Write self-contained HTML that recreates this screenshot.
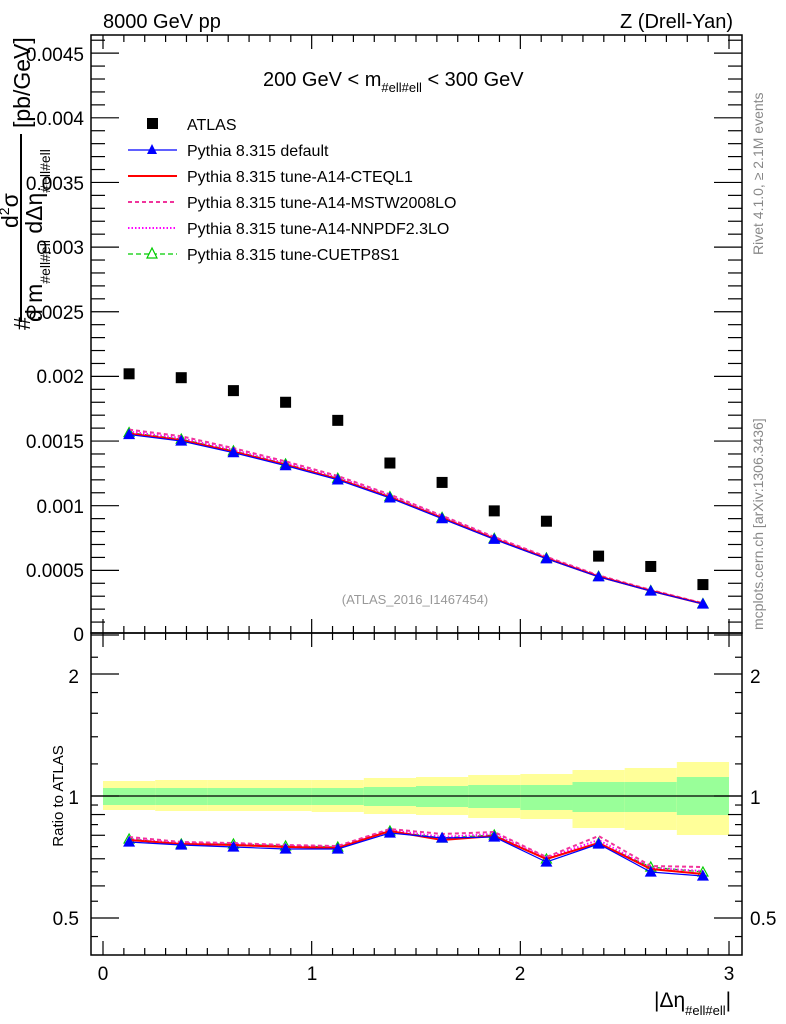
<!DOCTYPE html>
<html><head><meta charset="utf-8"><style>body{margin:0;background:#fff}svg{display:block}text{font-family:"Liberation Sans",sans-serif}</style></head>
<body>
<svg id="s" width="786" height="1024" xmlns="http://www.w3.org/2000/svg">
<rect width="786" height="1024" fill="#fff"/>
<g id="bands"></g>
<line x1="91" y1="796" x2="742" y2="796" stroke="#000" stroke-width="1.2"/>
<g id="series"></g>
<rect x="91" y="35" width="651" height="598" fill="none" stroke="#000" stroke-width="1.5"/>
<rect x="91" y="633" width="651" height="322" fill="none" stroke="#000" stroke-width="1.5"/>
<g id="ticks" stroke="#000" stroke-width="1.2"></g>
<text x="103" y="28" font-size="20">8000 GeV pp</text>
<text x="733" y="28" font-size="20" text-anchor="end">Z (Drell-Yan)</text>
<text x="263" y="86" font-size="20">200 GeV &lt; m<tspan font-size="13" dy="6">#ell#ell</tspan><tspan dy="-6"> &lt; 300 GeV</tspan></text>
<g font-size="16">
<text x="187" y="130">ATLAS</text>
<text x="187" y="156">Pythia 8.315 default</text>
<text x="187" y="182">Pythia 8.315 tune-A14-CTEQL1</text>
<text x="187" y="208">Pythia 8.315 tune-A14-MSTW2008LO</text>
<text x="187" y="234">Pythia 8.315 tune-A14-NNPDF2.3LO</text>
<text x="187" y="260">Pythia 8.315 tune-CUETP8S1</text>
</g>
<rect x="147" y="118" width="11" height="11" fill="#000"/>
<line x1="128" y1="150" x2="177" y2="150" stroke="#00f" stroke-width="1.2"/><polygon points="152,144 147,154 157,154" fill="#00f"/>
<line x1="128" y1="176" x2="177" y2="176" stroke="#f00" stroke-width="2"/>
<line x1="128" y1="202" x2="177" y2="202" stroke="#f0349b" stroke-width="2" stroke-dasharray="4,3"/>
<line x1="128" y1="228" x2="177" y2="228" stroke="#f0f" stroke-width="2" stroke-dasharray="1.5,2"/>
<line x1="128" y1="254" x2="177" y2="254" stroke="#0c0" stroke-width="1.2" stroke-dasharray="5,3"/><polygon points="152,248 147,258 157,258" fill="#fff" stroke="#0c0" stroke-width="1.2"/>
<g font-size="19">
<text x="84" y="61" text-anchor="end">0.0045</text>
<text x="84" y="125" text-anchor="end">0.004</text>
<text x="84" y="190" text-anchor="end">0.0035</text>
<text x="84" y="254" text-anchor="end">0.003</text>
<text x="84" y="319" text-anchor="end">0.0025</text>
<text x="84" y="383" text-anchor="end">0.002</text>
<text x="84" y="448" text-anchor="end">0.0015</text>
<text x="84" y="513" text-anchor="end">0.001</text>
<text x="84" y="577" text-anchor="end">0.0005</text>
<text x="84" y="641" text-anchor="end">0</text>
<text x="79" y="683" text-anchor="end">2</text>
<text x="79" y="804" text-anchor="end">1</text>
<text x="79" y="925" text-anchor="end">0.5</text>
<text x="750" y="683">2</text>
<text x="750" y="804">1</text>
<text x="750" y="925">0.5</text>
<text x="103" y="980" text-anchor="middle">0</text>
<text x="312" y="980" text-anchor="middle">1</text>
<text x="520" y="980" text-anchor="middle">2</text>
<text x="729" y="980" text-anchor="middle">3</text>
</g>
<text x="654" y="1007" font-size="21">|Δη<tspan font-size="13" dy="8">#ell#ell</tspan><tspan dy="-8">|</tspan></text>
<text x="415" y="604" font-size="13" fill="#999" text-anchor="middle">(ATLAS_2016_I1467454)</text>
<text transform="translate(63,796) rotate(-90)" font-size="15" text-anchor="middle">Ratio to ATLAS</text>
<text transform="translate(763,255) rotate(-90)" font-size="14" fill="#888">Rivet 4.1.0, ≥ 2.1M events</text>
<text transform="translate(763,630) rotate(-90)" font-size="14" fill="#888">mcplots.cern.ch [arXiv:1306.3436]</text>
<g font-size="23">
<text transform="translate(30,330) rotate(-90)">#</text>
<text transform="translate(18,228) rotate(-90)">d<tspan font-size="14" dy="-9">2</tspan><tspan dy="9">σ</tspan></text>
<line x1="21" y1="134" x2="21" y2="322" stroke="#000" stroke-width="2"/>
<text transform="translate(42,322) rotate(-90)">d m<tspan font-size="14" dy="8">#ell#ell</tspan><tspan dy="-8"> dΔη</tspan><tspan font-size="14" dy="8">#ell#ell</tspan></text>
<text transform="translate(30,128) rotate(-90)">[pb/GeV]</text>
</g>
<script>
var NS="http://www.w3.org/2000/svg";
function el(p,t,a){var e=document.createElementNS(NS,t);for(var k in a)e.setAttribute(k,a[k]);document.getElementById(p).appendChild(e);return e;}
function X(v){return 103+v*208.67;}
function YM(v){return 635-129300*v;}
function YR(r){return 796-122*Math.log2(r);}
var t="ticks";
for(var i=0;i<=30;i++){var v=i*0.1,L=(i%10==0)?14:7;var x=X(v);
el(t,"line",{x1:x,y1:35,x2:x,y2:35+L});el(t,"line",{x1:x,y1:633,x2:x,y2:633-L});
el(t,"line",{x1:x,y1:633,x2:x,y2:633+L});el(t,"line",{x1:x,y1:955,x2:x,y2:955-L});}
for(var i=0;i<=47;i++){var v=i*0.0001;var y=YM(v);if(y<36)continue;var L=(i%5==0)?28:14;
el(t,"line",{x1:91,y1:y,x2:91+L,y2:y});el(t,"line",{x1:742,y1:y,x2:742-L,y2:y});}
[0.5,0.6,0.7,0.8,0.9,1,2].forEach(function(r){var y=YR(r);var L=(r==0.5||r==1||r==2)?28:14;
el(t,"line",{x1:91,y1:y,x2:91+L,y2:y});el(t,"line",{x1:742,y1:y,x2:742-L,y2:y});});
[0.45,0.55,0.65,0.75,0.85,0.95,1.2,1.4,1.6,1.8,2.2].forEach(function(r){var y=YR(r);if(y<634||y>954)return;
el(t,"line",{x1:91,y1:y,x2:98,y2:y});el(t,"line",{x1:742,y1:y,x2:735,y2:y});});
var yl=[[781,810],[780,811],[780,811],[780,811],[780,812],[778,814],[777,815],[775,818],[774,819],[770,828],[768,830],[762,835]];
var gr=[[788,805],[788,805],[788,805],[788,805],[788,805],[787,806],[786,807],[785,808],[785,810],[782,812],[782,812],[777,815]];
for(var i=0;i<12;i++){var x1=X(i*0.25),x2=X((i+1)*0.25);
el("bands","rect",{x:x1,y:yl[i][0],width:x2-x1,height:yl[i][1]-yl[i][0],fill:"#ffff99"});
el("bands","rect",{x:x1,y:gr[i][0],width:x2-x1,height:gr[i][1]-gr[i][0],fill:"#99ff99"});}
var xs=[];for(var i=0;i<12;i++)xs.push(0.125+0.25*i);
var atlas=[0.00202,0.00199,0.00189,0.00180,0.00166,0.00133,0.00118,0.00096,0.00088,0.00061,0.00053,0.00039];
var base=[0.00155,0.00150,0.00141,0.00131,0.00120,0.00106,0.00090,0.00074,0.00059,0.00045,0.00034,0.00024];
var P={
blue:[842,845,847,849,849,833,838,837,862,844,872,876],
red:[840,844,845,847,848,831,840,836,859,843,869,874],
pink:[837,842,843,845,846,829,834,832,857,836,866,867],
mag:[839,843,844,846,847,830,837,834,858,840,868,871],
green:[839,844,844,846,847,831,838,835,859,843,867,872]};
var off={blue:0,red:0.005,pink:0.025,mag:0.015,green:0.01};
var st={blue:{c:"#00f",w:1.2,d:"",m:"f"},red:{c:"#f00",w:2,d:"",m:""},pink:{c:"#f0349b",w:2,d:"4,3",m:""},mag:{c:"#f0f",w:2,d:"1.5,2",m:""},green:{c:"#0c0",w:1.2,d:"5,3",m:"o"}};
["green","mag","pink","red","blue"].forEach(function(k){var s=st[k];
var pm="",pr="";for(var i=0;i<12;i++){pm+=(i?"L":"M")+X(xs[i])+","+YM(base[i]*(1+off[k]));pr+=(i?"L":"M")+X(xs[i])+","+P[k][i];}
[pm,pr].forEach(function(p){el("series","path",{d:p,fill:"none",stroke:s.c,"stroke-width":s.w,"stroke-dasharray":s.d});});
if(s.m){for(var i=0;i<12;i++){var x=X(xs[i]);[YM(base[i]*(1+off[k])),P[k][i]].forEach(function(y){
el("series","polygon",{points:x+","+(y-5)+" "+(x-5)+","+(y+4)+" "+(x+5)+","+(y+4),fill:s.m=="f"?s.c:"none",stroke:s.c,"stroke-width":1.2});});}}
});
for(var i=0;i<12;i++){el("series","rect",{x:X(xs[i])-5.5,y:YM(atlas[i])-5.5,width:11,height:11,fill:"#000"});}
</script>
</svg>
</body></html>
